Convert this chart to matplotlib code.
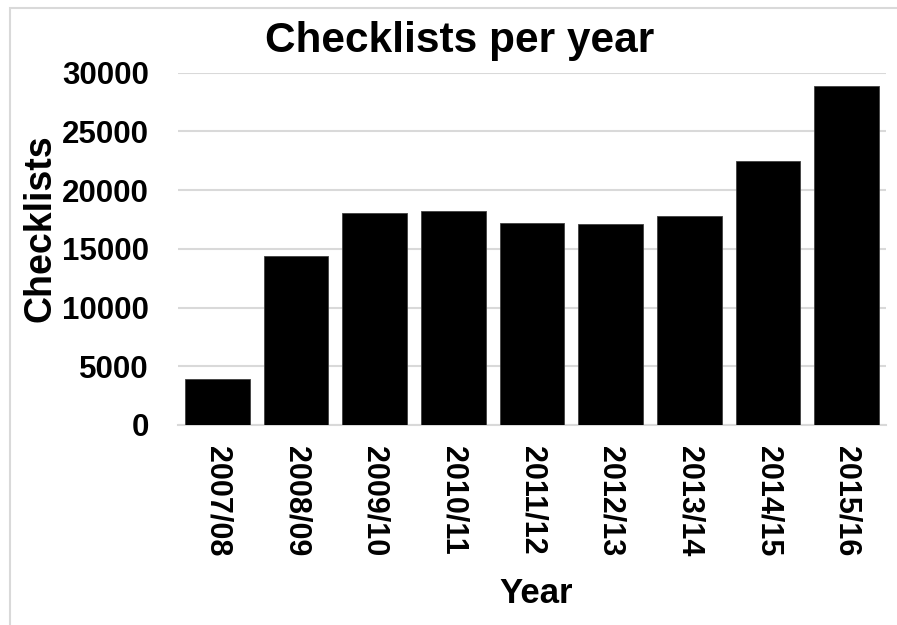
import numpy as np
import matplotlib
matplotlib.use("Agg")
from matplotlib import pyplot as plt
from matplotlib.patches import Rectangle

plt.rcParams['font.family'] = ['Liberation Sans', 'DejaVu Sans']
plt.rcParams['font.weight'] = 'bold'

years = ['2007/08', '2008/09', '2009/10', '2010/11', '2011/12',
         '2012/13', '2013/14', '2014/15', '2015/16']
checklists = [3950, 14370, 18060, 18200, 17180, 17090, 17800, 22460, 28900]

W, H = 897, 625
fig = plt.figure(figsize=(W / 100, H / 100), dpi=100)
ax = fig.add_axes([178 / W, 1 - 425 / H, (886 - 178) / W, (425 - 72.7) / H])

x = np.arange(len(years))
ax.bar(x, checklists, width=0.82, color='black', edgecolor='#404040', linewidth=0.6, zorder=3)

ax.set_xlim(-0.5, len(years) - 0.5)
ax.set_ylim(0, 30000)
ax.set_yticks(np.arange(0, 30001, 5000))
ax.set_xticks(x)
ax.set_xticklabels(years, rotation=270, fontsize=22, fontweight='bold')
ax.tick_params(axis='y', labelsize=22.5, length=0, pad=21)
ax.tick_params(axis='x', length=0, pad=15)
for lab in ax.get_yticklabels():
    lab.set_fontweight('bold')

ax.grid(axis='y', color='#d9d9d9', linewidth=1.5, zorder=0)
for s in ['top', 'right', 'left']:
    ax.spines[s].set_visible(False)
ax.spines['bottom'].set_color('#d9d9d9')
ax.spines['bottom'].set_linewidth(1.5)

fig.text(460 / W, 1 - 52 / H, 'Checklists per year', ha='center', va='baseline',
         fontsize=30.5, fontweight='bold')
fig.text(40 / W, 1 - 228 / H, 'Checklists', ha='center', va='center', rotation=90,
         fontsize=27, fontweight='bold')
fig.text(536 / W, 1 - 603 / H, 'Year', ha='center', va='baseline',
         fontsize=25, fontweight='bold')

# chart area border
fig.patches.append(Rectangle((10 / W, -0.05), 1.05, 1 - 7.5 / H + 0.05, transform=fig.transFigure,
                             fill=False, edgecolor='#d9d9d9', linewidth=1.5))

plt.savefig("out.png", dpi=100)
